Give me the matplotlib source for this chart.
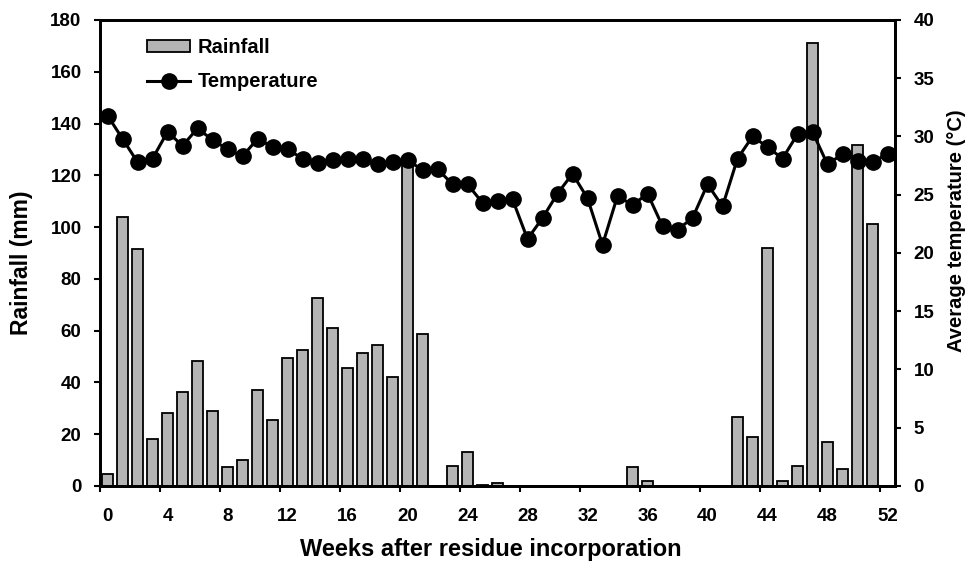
import numpy as np
import matplotlib
matplotlib.use("Agg")
import matplotlib.pyplot as plt

plt.rcParams['font.family'] = ['Liberation Sans', 'DejaVu Sans']
plt.rcParams['font.weight'] = 'bold'

# Weekly data
weeks = np.arange(0, 53)
rainfall = [4.5, 103.8, 91.5, 18.3, 28.2, 36.2, 48.3, 28.8, 7.2, 10.0,
            37.2, 25.5, 49.6, 52.5, 72.5, 61.2, 45.7, 51.2, 54.3, 42.0,
            125.3, 58.8, 0, 7.6, 13.0, 0.5, 1.2, 0, 0, 0,
            0, 0, 0, 0, 0, 7.2, 1.9, 0, 0, 0,
            0, 0, 26.8, 19.0, 92.0, 1.9, 7.7, 171.2, 17.1, 6.4,
            131.6, 101.2, 0]
temperature = [31.8, 29.8, 27.8, 28.1, 30.4, 29.2, 30.7, 29.7, 28.9, 28.3,
               29.8, 29.1, 28.9, 28.1, 27.7, 28.0, 28.1, 28.1, 27.6, 27.8,
               28.0, 27.1, 27.2, 25.9, 25.9, 24.3, 24.5, 24.6, 21.2, 23.0,
               25.1, 26.8, 24.7, 20.7, 24.9, 24.1, 25.1, 22.3, 22.0, 23.0,
               25.9, 24.0, 28.1, 30.0, 29.1, 28.1, 30.2, 30.4, 27.6, 28.5,
               27.9, 27.8, 28.5]
week_ticks = np.arange(0, 53, 4)

fig = plt.figure(figsize=(9.74, 5.69), dpi=100)
ax = fig.add_axes([0.1027, 0.1459, 0.8162, 0.819])
ax2 = ax.twinx()

bars = ax.bar(weeks, rainfall, width=0.78, color='#b4b4b4',
              edgecolor='black', linewidth=1.3, label='Rainfall', zorder=2)
line, = ax2.plot(weeks, temperature, '-o', color='black', linewidth=2.2,
                 markersize=11, label='Temperature', zorder=3)

ax.set_xlim(-0.5, 52.5)
ax.set_ylim(0, 180)
ax.set_yticks(np.arange(0, 181, 20))
ax2.set_ylim(0, 40)
ax2.set_yticks(np.arange(0, 41, 5))

# labels on the weeks, tick marks between categories
ax.set_xticks(week_ticks)
ax.set_xticks(week_ticks - 0.5, minor=True)
ax.tick_params(axis='x', which='major', length=0, pad=16, labelsize=13.5)
ax.tick_params(axis='x', which='minor', length=4.3, width=1.5, direction='out')
ax.tick_params(axis='y', length=4.3, width=1.5, labelsize=13.5, pad=9)
ax2.tick_params(axis='y', length=4.3, width=1.5, labelsize=13.5, pad=9)

for a in (ax, ax2):
    for s in a.spines.values():
        s.set_linewidth(2)

ax.set_xlabel('Weeks after residue incorporation', fontsize=17,
              fontweight='bold')
ax.xaxis.set_label_coords(0.492, -0.112)
ax.set_ylabel('Rainfall (mm)', fontsize=16.5, fontweight='bold')
ax.yaxis.set_label_coords(-0.084, 0.4785)
ax2.set_ylabel('Average temperature (\u00b0C)', fontsize=14.5,
               fontweight='bold')
ax2.yaxis.set_label_coords(1.066, 0.547)

ax.set_zorder(ax2.get_zorder() - 1)
ax.patch.set_visible(True)
ax2.patch.set_visible(False)

ax2.legend([bars, line], ['Rainfall', 'Temperature'], loc='upper left',
           bbox_to_anchor=(0.0365, 1.0), frameon=False,
           handlelength=2.15, handleheight=0.55, labelspacing=0.75,
           handletextpad=0.35, prop={'weight': 'bold', 'size': 14.5})

plt.savefig('out.png', dpi=100)
